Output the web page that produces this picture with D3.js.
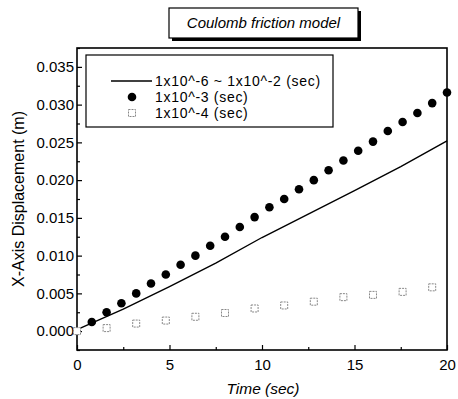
<!DOCTYPE html>
<html><head><meta charset="utf-8">
<script src="https://cdn.jsdelivr.net/npm/d3@7/dist/d3.min.js"></script>
<style>body{margin:0;background:#fff}svg{display:block}text{font-family:Arial,"Liberation Sans",sans-serif}</style>
</head><body><svg id="c" width="458" height="399"></svg>
<script>
// ---- data ----
const lineT = [0, 2.5, 5, 7.5, 10, 12.5, 15, 17.5, 20];
const lineV = [0.0002, 0.0029, 0.0059, 0.0090, 0.0124, 0.0155, 0.0186, 0.0218, 0.0252];
const circT = [0.8,1.6,2.4,3.2,4.0,4.8,5.6,6.4,7.2,8.0,8.8,9.6,10.4,11.2,12.0,12.8,13.6,14.4,15.2,16.0,16.8,17.6,18.4,19.2,20.0];
const circV = [0.0012,0.0025,0.0037,0.0050,0.0063,0.0075,0.0088,0.0100,0.0113,0.0125,0.0138,0.0151,0.0164,0.0175,0.0188,0.0200,0.0213,0.0226,0.0239,0.0251,0.0265,0.0277,0.0289,0.0302,0.0316];
const sqT = [0,1.6,3.2,4.8,6.4,8.0,9.6,11.2,12.8,14.4,16.0,17.6,19.2];
const sqV = [0,0.0004,0.0010,0.0014,0.0019,0.0024,0.0030,0.0034,0.0039,0.0045,0.0048,0.0052,0.0058];
const xTicks = [0,5,10,15,20];
const yTicks = [0,0.005,0.010,0.015,0.020,0.025,0.030,0.035];
const legendLabels = ["1x10^-6 ~ 1x10^-2 (sec)", "1x10^-3 (sec)", "1x10^-4 (sec)"];
const titleText = "Coulomb friction model";
const xTitle = "Time (sec)";
const yTitle = "X-Axis Displacement (m)";

// ---- layout ----
const L = 77, R = 447, T = 48, B = 350;
const svg = d3.select("#c");
const x = d3.scaleLinear().domain([0,20]).range([L,R]);
const y = d3.scaleLinear().domain([-0.0025,0.0375]).range([B,T]);

// title box with shadow
const tb = {x:169, y:8, w:189, h:30};
svg.append("rect").attr("x",tb.x+3).attr("y",tb.y+3).attr("width",tb.w).attr("height",tb.h).attr("fill","#000");
svg.append("rect").attr("x",tb.x).attr("y",tb.y).attr("width",tb.w).attr("height",tb.h).attr("fill","#fff").attr("stroke","#000").attr("stroke-width",1.2);
svg.append("text").attr("x",tb.x+tb.w/2).attr("y",tb.y+20).attr("text-anchor","middle")
  .attr("font-size",15).attr("font-style","italic").text(titleText);

// axes (inward ticks)
const gx = svg.append("g").attr("transform",`translate(0,${B})`)
  .call(d3.axisBottom(x).tickValues(xTicks).tickFormat(d3.format("d")).tickSizeInner(-5).tickSizeOuter(0).tickPadding(9));
const gxm = svg.append("g").attr("transform",`translate(0,${B})`)
  .call(d3.axisBottom(x).tickValues([2.5,7.5,12.5,17.5]).tickFormat("").tickSizeInner(-3).tickSizeOuter(0));
const gy = svg.append("g").attr("transform",`translate(${L},0)`)
  .call(d3.axisLeft(y).tickValues(yTicks).tickFormat(d3.format(".3f")).tickSizeInner(-5).tickSizeOuter(0).tickPadding(3));
const gym = svg.append("g").attr("transform",`translate(${L},0)`)
  .call(d3.axisLeft(y).tickValues([-0.0025,0.0025,0.0075,0.0125,0.0175,0.0225,0.0275,0.0325,0.0375]).tickFormat("").tickSizeInner(-3).tickSizeOuter(0));
[gx,gxm,gy,gym].forEach(g=>{g.select(".domain").remove();g.selectAll("line").attr("stroke","#000").attr("stroke-width",1.2);
  g.selectAll("text").attr("font-size",15).attr("fill","#000").attr("font-family","Arial, 'Liberation Sans', sans-serif");});

// frame
svg.append("rect").attr("x",L).attr("y",T).attr("width",R-L).attr("height",B-T).attr("fill","none").attr("stroke","#000").attr("stroke-width",1.6);

// data
const pts = lineT.map((t,i)=>[t,lineV[i]]);
svg.append("path").datum(pts).attr("d",d3.line().x(d=>x(d[0])).y(d=>y(d[1])))
  .attr("fill","none").attr("stroke","#000").attr("stroke-width",1.4);
svg.append("g").selectAll("circle").data(circT.map((t,i)=>[t,circV[i]])).join("circle")
  .attr("cx",d=>x(d[0])).attr("cy",d=>y(d[1])).attr("r",4.3).attr("fill","#000");
svg.append("g").selectAll("rect").data(sqT.map((t,i)=>[t,sqV[i]])).join("rect")
  .attr("x",d=>x(d[0])-3.5).attr("y",d=>y(d[1])-3.5).attr("width",7).attr("height",7)
  .attr("fill","#fff").attr("stroke","#888").attr("stroke-width",1).attr("stroke-dasharray","2,1");

// legend
const lg = svg.append("g");
lg.append("rect").attr("x",86).attr("y",55).attr("width",247).attr("height",72).attr("fill","#fff").attr("stroke","#000").attr("stroke-width",1.2);
const ly = [81, 97, 113];
lg.append("line").attr("x1",111).attr("x2",152).attr("y1",ly[0]).attr("y2",ly[0]).attr("stroke","#000").attr("stroke-width",1.4);
lg.append("circle").attr("cx",132).attr("cy",ly[1]).attr("r",4.3).attr("fill","#000");
lg.append("rect").attr("x",128.5).attr("y",ly[2]-3.5).attr("width",7).attr("height",7).attr("fill","#fff").attr("stroke","#888").attr("stroke-dasharray","2,1");
legendLabels.forEach((s,i)=>lg.append("text").attr("x",155).attr("y",ly[i]+5).attr("font-size",14).attr("letter-spacing",0.7).text(s));

// axis titles
svg.append("text").attr("x",263).attr("y",394).attr("text-anchor","middle").attr("font-size",15.5).attr("font-style","italic").text(xTitle);
svg.append("text").attr("transform",`translate(24,${(T+B)/2}) rotate(-90)`).attr("text-anchor","middle").attr("font-size",16).text(yTitle);
</script></body></html>
